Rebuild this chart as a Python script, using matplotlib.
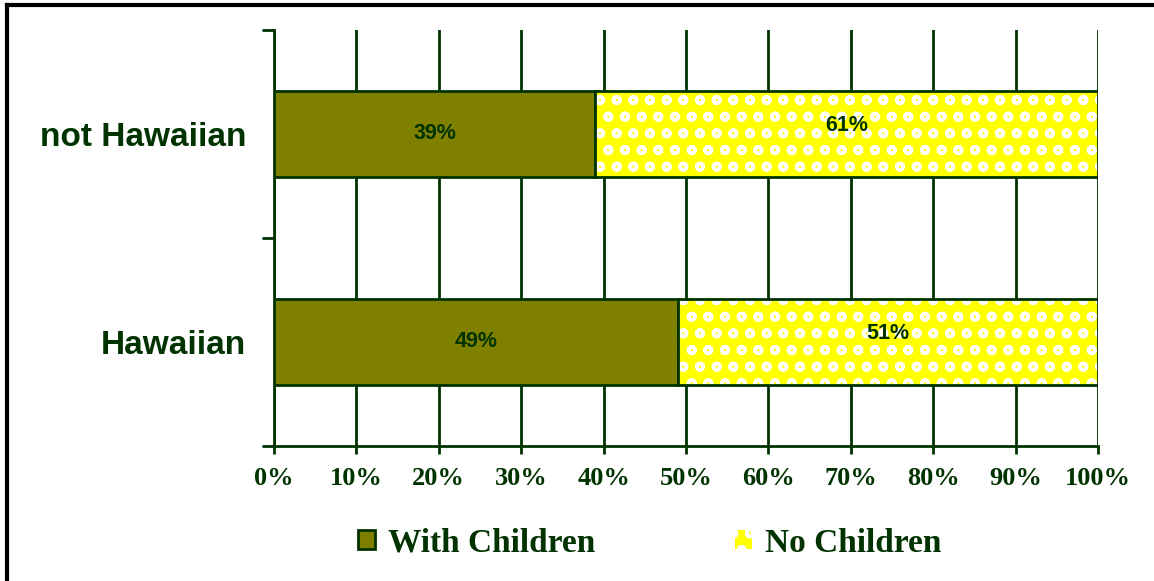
import matplotlib.pyplot as plt
from matplotlib.lines import Line2D
from matplotlib.patches import Patch

# data
groups = ['Hawaiian', 'not Hawaiian']
with_children = [49, 39]
no_children = [51, 61]
series_names = ['With Children', 'No Children']
tick_labels = ['0%', '10%', '20%', '30%', '40%', '50%', '60%', '70%', '80%', '90%', '100%']

dark = '#003300'
olive = '#808000'
yellow = '#FFFF00'

plt.rcParams['hatch.linewidth'] = 2.5

fig = plt.figure(figsize=(11.54, 5.81), dpi=100)
ax = fig.add_axes([0.2374, 0.2324, 0.7141, 0.716])

ypos = list(range(len(groups)))
h = 0.41

ax.barh(ypos, with_children, height=h, color=olive, edgecolor=dark, linewidth=2, zorder=3)
# "no children" bars: yellow with white speckle pattern, then outline
ax.barh(ypos, no_children, left=with_children, height=h, color=yellow, zorder=3)
ax.barh(ypos, no_children, left=with_children, height=h, facecolor='none',
        edgecolor='white', hatch='o', linewidth=0, zorder=3)
ax.barh(ypos, no_children, left=with_children, height=h, fill=False,
        edgecolor=dark, linewidth=2, zorder=4)

for i in ypos:
    ax.text(with_children[i] / 2, i, f'{with_children[i]}%', ha='center', va='center',
            fontsize=15.5, fontweight='bold', family='Liberation Sans', color=dark, zorder=5)
    ax.text(with_children[i] + no_children[i] / 2, i + 0.04, f'{no_children[i]}%',
            ha='center', va='center', fontsize=15.5, fontweight='bold',
            family='Liberation Sans', color=dark, zorder=5)

ax.set_xlim(0, 100)
ax.set_ylim(-0.5, 1.5)
ax.set_xticks(range(0, 101, 10))
ax.set_xticklabels(tick_labels, fontsize=19, fontweight='bold', family='Liberation Serif', color=dark)
ax.set_yticks([-0.5, 0.5, 1.5], minor=False)
ax.set_yticklabels(['', '', ''])
ax.set_yticks(ypos, minor=True)
ax.set_yticklabels(groups, minor=True, fontsize=24, fontweight='bold',
                   family='Liberation Sans', color=dark)
ax.tick_params(axis='y', which='major', length=9, width=2, color=dark, direction='out')
ax.tick_params(axis='y', which='minor', length=0, pad=20)
ax.tick_params(axis='x', length=6, width=2, color=dark, direction='out', pad=9)

ax.grid(axis='x', color=dark, linewidth=2, zorder=0)
ax.set_axisbelow(True)
for s in ['top', 'right']:
    ax.spines[s].set_visible(False)
for s in ['left', 'bottom']:
    ax.spines[s].set_color(dark)
    ax.spines[s].set_linewidth(2)

handles = [Patch(facecolor=olive, edgecolor=dark, linewidth=2),
           Patch(facecolor=yellow, edgecolor='white', hatch='o', linewidth=0)]
fig.legend(handles, series_names, loc='center', bbox_to_anchor=(0.563, 0.065), ncol=2,
           frameon=False, columnspacing=4.2, handlelength=0.5, handleheight=0.5, handletextpad=0.4,
           prop={'family': 'Liberation Serif', 'weight': 'bold', 'size': 24},
           labelcolor=dark)

# outer frame (top and left edges visible)
fig.add_artist(Line2D([0.006, 1.0], [0.991, 0.991], color='black', linewidth=3, transform=fig.transFigure))
fig.add_artist(Line2D([0.006, 0.006], [0.0, 0.991], color='black', linewidth=3, transform=fig.transFigure))

fig.savefig('out.png', dpi=100)
